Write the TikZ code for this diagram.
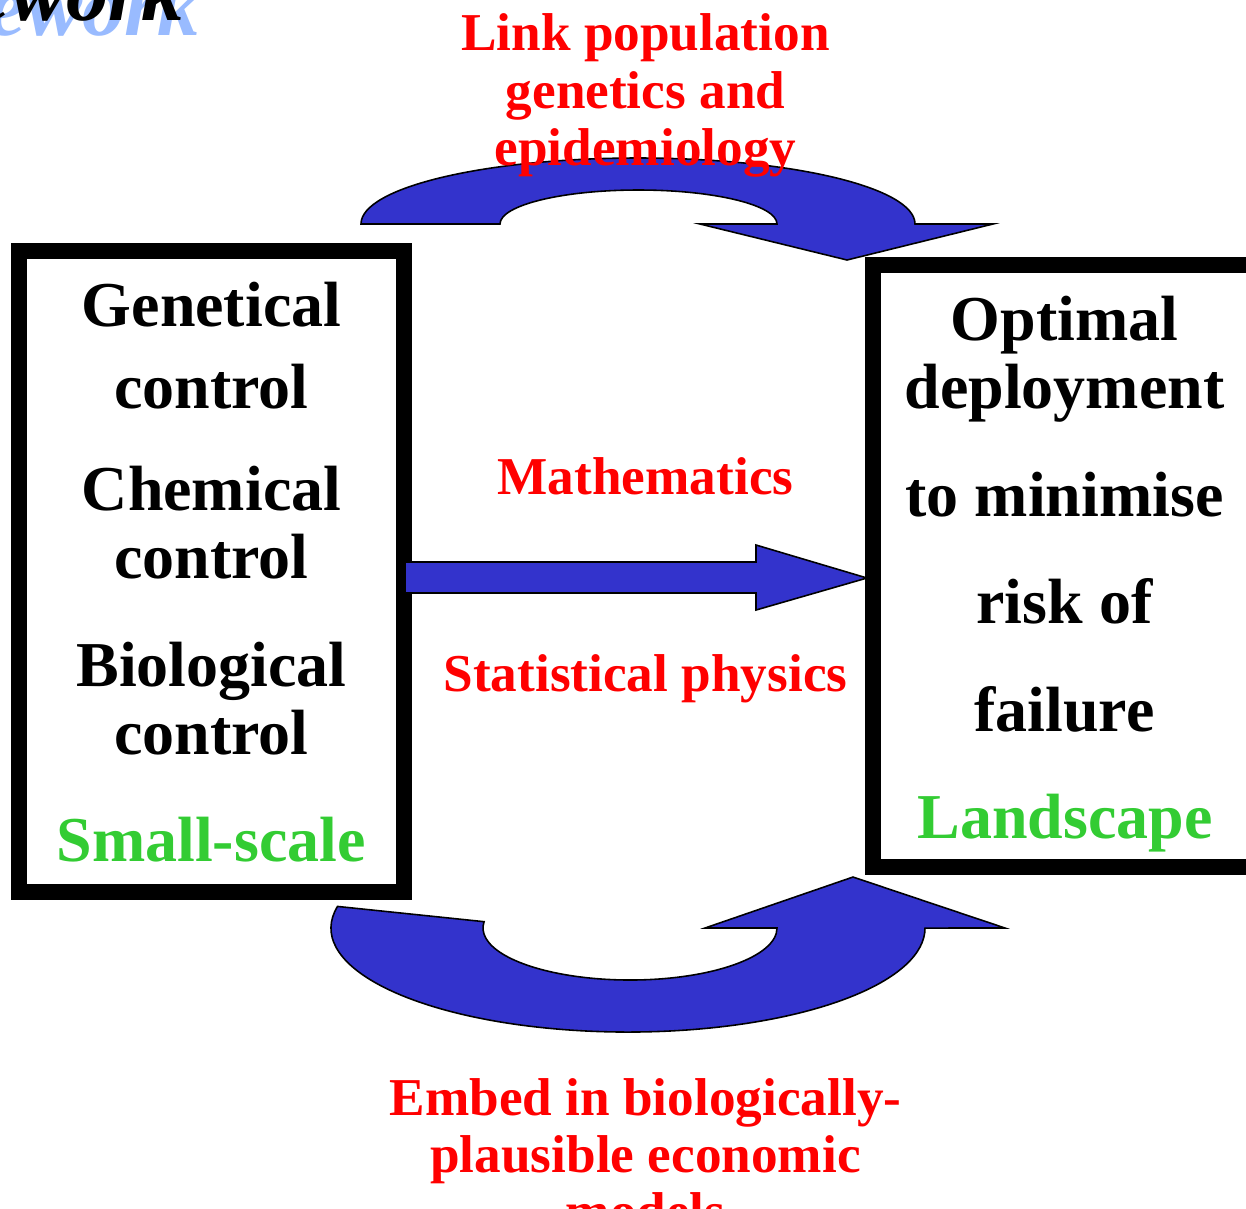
\documentclass[tikz,border=0pt]{standalone}
\usepackage{fontspec}
\setmainfont{Liberation Serif}
\usetikzlibrary{calc}
\definecolor{arrowblue}{RGB}{51,51,204}
\definecolor{hotred}{RGB}{255,0,0}
\definecolor{scalegreen}{RGB}{51,204,51}
\definecolor{shadowblue}{RGB}{153,187,255}
\tikzset{
  panel/.style={draw=black,line width=9.1pt,inner sep=0pt},
  bigarrow/.style={fill=arrowblue,draw=black,line width=0.9pt,line join=miter},
  blk/.style={font=\fontsize{36.4}{43}\selectfont\bfseries,text=black,anchor=base},
  grn/.style={blk,text=scalegreen},
  redlbl/.style={font=\fontsize{30.3}{34}\selectfont\bfseries,text=hotred,anchor=base},
  ttl/.style={font=\fontsize{48}{54}\selectfont\bfseries\itshape,anchor=base east},
}

\begin{document}
\begin{tikzpicture}[x=0.02cm,y=-0.02cm]
  \clip (0,0) rectangle (1246,1208);
  \useasboundingbox (0,0) rectangle (1246,1208);
  % title remnant
  \node[ttl,text=shadowblue] (ttlshadow) at (206,35) {ework};
  \node[ttl,text=black] (ttltext) at (190,20) {ework};
  % the two panels
  \node[panel,minimum width=7.69cm,minimum height=12.83cm] (small) at (211.5,571.2) {};
  \node[panel,minimum width=7.78cm,minimum height=12.04cm] (land) at (1067.5,566) {};
  % block arrows
  \draw[bigarrow] (405,562) -- (756,562) -- (756,545) -- (867,578) -- (756,610) -- (756,593) -- (405,593) -- cycle;
  \draw[bigarrow] (361,224) arc[start angle=180,end angle=360,x radius=277,y radius=66]
    -- (993,224) -- (847,260) -- (700,224) -- (777,224)
    arc[start angle=360,end angle=180,x radius=138.5,y radius=34] -- cycle;
  \draw[bigarrow] (337.5,906.4) arc[start angle=192,end angle=0,x radius=297,y radius=104]
    -- (1005,928) -- (853,877) -- (705,928) -- (777,928)
    arc[start angle=0,end angle=187,x radius=147,y radius=52] -- cycle;
  % panel texts
  \foreach \t/\y [count=\i] in {Genetical/326,control/408,Chemical/510,control/578,Biological/686,control/754}
    \node[blk] (l\i) at (211.5,\y) {\t};
  \foreach \t/\y [count=\i] in {Optimal/340,deployment/408,to minimise/516,risk of/623,failure/731}
    \node[blk] (r\i) at (1064.5,\y) {\t};
  \node[grn] (smallscale) at (211,861) {Small-scale};
  \node[grn] (landscape) at (1065,838) {Landscape};
  % red labels
  \foreach \t/\y [count=\i] in {Link population/50,genetics and/108,epidemiology/165}
    \node[redlbl] (top\i) at (645.5,\y) {\t};
  \node[redlbl] (maths) at (645.5,494) {Mathematics};
  \node[redlbl] (stats) at (645.5,691) {Statistical physics};
  \foreach \t/\y [count=\i] in {Embed in biologically-/1115,plausible economic/1172,models/1229}
    \node[redlbl] (bot\i) at (645.5,\y) {\t};
\end{tikzpicture}
\end{document}
